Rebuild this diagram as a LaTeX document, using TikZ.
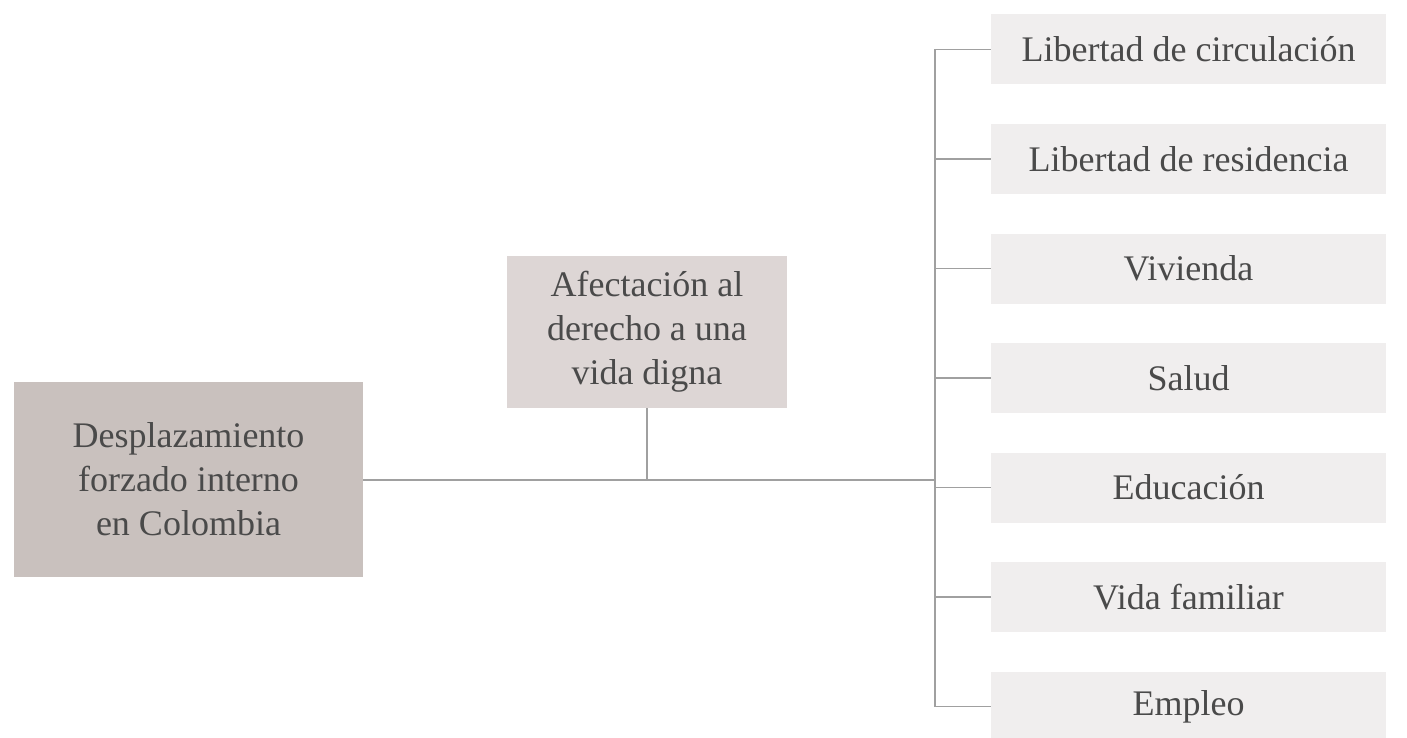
\documentclass[tikz,border=0pt]{standalone}
\usepackage{fontspec}
\setmainfont{Liberation Serif}
\definecolor{boxA}{HTML}{C9C1BE}
\definecolor{boxB}{HTML}{DDD6D5}
\definecolor{boxC}{HTML}{F0EEEE}
\definecolor{txt}{HTML}{4A4A4A}
\definecolor{ln}{HTML}{A0A0A0}
\begin{document}
\begin{tikzpicture}[x=1pt,y=-1pt,
  base/.style={inner sep=0pt, align=center, text=txt,
    font=\fontsize{36}{44}\selectfont},
  mainbox/.style={base, fill=boxA, minimum width=349pt, minimum height=195pt},
  midbox/.style={base, fill=boxB, minimum width=280pt, minimum height=152pt},
  itembox/.style={base, fill=boxC, minimum width=395pt, minimum height=70pt},
  conn/.style={draw=ln, line width=1.4pt}]
\useasboundingbox (0,0) rectangle (1407,738);
\node[mainbox] (main) at (188.5,479.5) {Desplazamiento\\forzado interno\\en Colombia};
\node[midbox] (mid) at (647,332) {Afectación al\\derecho a una\\vida digna};
\node[itembox] (i1) at (1188.5,49.5) {Libertad de circulación};
\node[itembox] (i2) at (1188.5,159) {Libertad de residencia};
\node[itembox] (i3) at (1188.5,268.5) {Vivienda};
\node[itembox] (i4) at (1188.5,378) {Salud};
\node[itembox] (i5) at (1188.5,487.5) {Educación};
\node[itembox] (i6) at (1188.5,597) {Vida familiar};
\node[itembox] (i7) at (1188.5,706.5) {Empleo};
\coordinate (sp) at (935,480);
\coordinate (mj) at (647,480);
\coordinate (st) at (935,49.5);
\coordinate (sb) at (935,706.5);
\draw[conn] (main.east |- sp) -- (sp);
\draw[conn] (mid.south) -- (mj);
\draw[conn] (st) -- (sb);
\foreach \i in {1,...,7} {
  \draw[conn] (st |- i\i.west) -- (i\i.west);
}
\end{tikzpicture}
\end{document}
